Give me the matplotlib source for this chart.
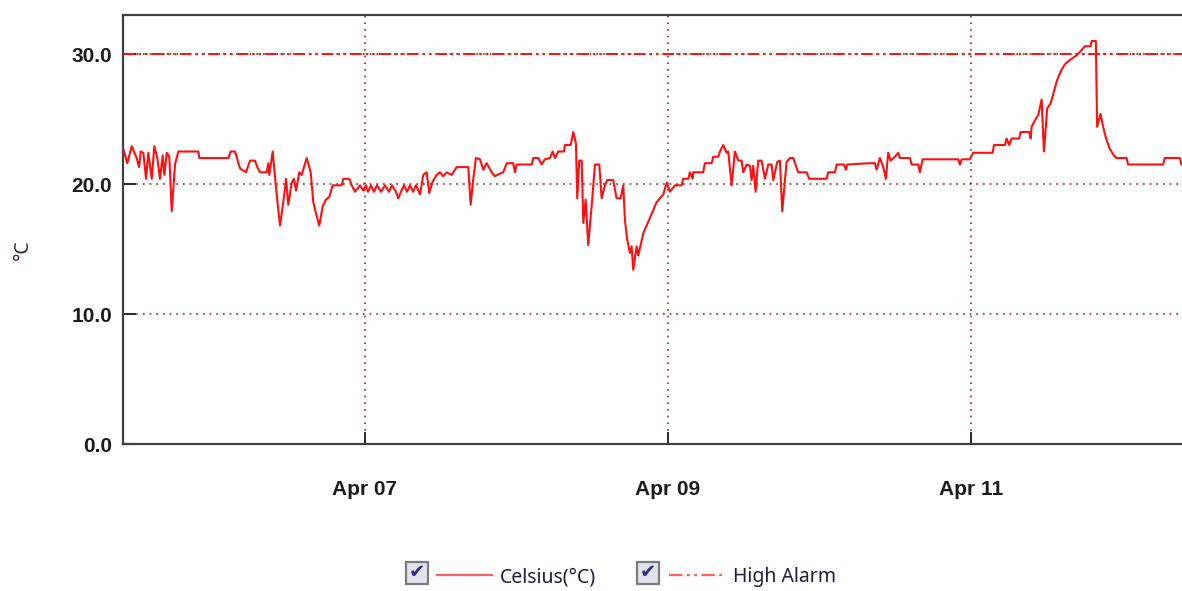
import pandas as pd
import matplotlib
matplotlib.use("Agg")
import matplotlib.pyplot as plt
import matplotlib.dates as mdates
from matplotlib.ticker import FormatStrFormatter
from matplotlib.lines import Line2D
from matplotlib.patches import Rectangle

# --- Data (hours since Apr 05 00:00, temperature in °C) ---
start = pd.Timestamp("2024-04-05 00:00")
hours = [
    9.71, 10.34, 11.04, 11.83, 12.20, 12.47, 12.88, 13.31, 13.67, 14.21,
    14.62, 15.10, 15.52, 15.95, 16.21, 16.59, 17.00, 17.38, 17.90, 18.42,
    21.59, 21.75, 26.34, 26.72, 27.41, 28.20, 29.15, 29.78, 30.57, 30.94,
    31.37, 32.43, 32.68, 32.84, 33.38, 33.90, 34.53, 35.06, 35.49, 35.85,
    36.39, 36.75, 37.07, 37.59, 37.97, 38.76, 39.40, 39.81, 40.30, 40.76,
    41.30, 41.82, 42.34, 42.88, 44.31, 44.56, 45.51, 45.89, 46.42, 47.21,
    47.73, 48.16, 48.48, 48.95, 49.43, 49.90, 50.53, 51.17, 51.80, 52.28,
    52.91, 53.28, 53.70, 54.18, 54.65, 55.13, 55.60, 56.08, 56.71, 57.24,
    57.77, 58.19, 58.72, 59.36, 59.88, 60.40, 60.94, 61.73, 62.53, 64.36,
    64.74, 65.16, 65.58, 66.22, 66.74, 67.28, 68.07, 68.59, 69.39, 69.91,
    70.45, 71.49, 71.76, 72.03, 74.41, 74.66, 75.45, 75.99, 76.51, 77.31,
    77.73, 78.10, 78.62, 79.52, 79.68, 80.59, 81.00, 81.43, 81.63, 81.95,
    82.33, 82.59, 82.96, 83.37, 83.91, 84.44, 85.12, 85.50, 86.02, 86.38,
    87.33, 87.87, 88.51, 88.92, 89.19, 89.55, 89.98, 90.25, 90.50, 91.04,
    91.30, 92.09, 93.15, 94.21, 95.26, 95.80, 96.32, 97.11, 98.17, 98.42,
    99.22, 99.48, 99.91, 100.01, 101.59, 101.86, 102.92, 103.18, 103.97, 104.24,
    104.76, 105.30, 105.55, 106.09, 106.61, 107.14, 107.67, 107.93, 108.47, 108.99,
    109.26, 109.51, 109.89, 110.31, 110.84, 111.37, 111.89, 112.43, 112.68, 113.32,
    113.74, 114.11, 114.80, 115.33, 115.85, 116.64, 117.97, 118.39, 121.14, 121.40,
    122.46, 122.73, 123.88, 124.20, 124.40, 128.00, 128.79, 129.06, 129.58, 130.11,
    130.53, 130.90, 131.28, 131.96, 132.49, 132.75, 134.34, 134.61, 135.65, 135.92,
    136.35, 141.99, 142.26, 142.53, 143.84, 144.37, 147.44, 147.65, 149.39, 149.66,
    150.07, 150.45, 151.65, 151.88, 153.24, 153.46, 153.62, 154.15, 154.67, 155.21,
    155.57, 156.09, 156.63, 157.15, 157.67, 158.37, 158.89, 159.57, 160.74, 161.54,
    162.06, 162.96, 163.12, 163.80, 164.00, 164.54, 164.95, 165.49, 166.01, 166.65,
    167.07, 168.66, 168.91, 174.45, 174.72, 177.09, 177.36,
]
celsius = [
    22.7, 21.6, 22.9, 22.0, 21.3, 22.5, 22.4, 20.4, 22.4, 20.4,
    22.9, 22.0, 20.4, 22.2, 20.7, 22.4, 22.1, 17.9, 21.5, 22.5,
    22.5, 22.0, 22.0, 22.5, 22.5, 21.2, 20.9, 21.8, 21.8, 21.3,
    20.9, 20.9, 21.6, 20.7, 22.5, 19.7, 16.8, 18.6, 20.4, 18.4,
    20.1, 20.4, 19.5, 20.9, 20.7, 22.0, 20.9, 18.6, 17.6, 16.8,
    18.3, 18.8, 19.0, 19.9, 19.9, 20.4, 20.4, 19.9, 19.4, 19.9,
    19.5, 19.9, 19.4, 19.9, 19.4, 19.9, 19.4, 19.9, 19.4, 19.9,
    19.4, 18.9, 19.4, 19.9, 19.4, 19.9, 19.4, 19.9, 19.2, 20.7,
    20.9, 19.3, 20.2, 20.7, 20.9, 20.6, 20.9, 20.7, 21.3, 21.3,
    18.4, 20.4, 22.0, 21.9, 21.1, 21.6, 20.9, 20.6, 20.8, 20.9,
    21.6, 21.6, 20.9, 21.5, 21.5, 22.0, 22.0, 21.5, 21.9, 22.0,
    22.5, 22.0, 22.5, 22.5, 23.0, 23.0, 24.0, 23.1, 18.9, 21.8,
    21.8, 17.0, 18.8, 15.3, 18.3, 21.5, 21.5, 18.9, 19.9, 20.3,
    20.3, 18.9, 18.9, 19.9, 17.2, 15.7, 14.7, 15.2, 13.4, 15.2,
    14.5, 16.2, 17.4, 18.6, 19.2, 20.1, 19.4, 19.9, 19.9, 20.4,
    20.4, 20.9, 20.4, 20.9, 20.9, 21.6, 21.6, 22.1, 22.1, 22.5,
    23.0, 22.4, 22.5, 19.9, 22.5, 21.8, 21.8, 20.9, 21.5, 21.4,
    20.3, 21.4, 19.4, 21.8, 21.8, 20.4, 21.5, 21.5, 20.3, 21.7,
    21.8, 17.9, 21.7, 22.0, 22.0, 20.9, 20.9, 20.4, 20.4, 20.9,
    20.9, 21.5, 21.5, 21.1, 21.5, 21.6, 21.6, 21.1, 22.0, 21.3,
    20.4, 22.4, 21.8, 22.1, 22.4, 22.0, 22.0, 21.5, 21.5, 20.9,
    21.9, 21.9, 21.5, 21.9, 21.9, 22.4, 22.4, 23.0, 23.0, 23.5,
    23.0, 23.5, 23.5, 24.0, 24.0, 23.5, 24.4, 24.9, 25.3, 26.5,
    22.5, 25.8, 26.2, 27.1, 28.0, 28.8, 29.2, 29.5, 29.9, 30.3,
    30.6, 30.6, 31.0, 31.0, 24.4, 25.4, 24.4, 23.4, 22.7, 22.2,
    22.0, 22.0, 21.5, 21.5, 22.0, 22.0, 21.5,
]
high_alarm = 30.0
y_ticks = [0, 10, 20, 30]
view_hours = (9.66, 177.45)
legend_labels = ["Celsius(°C)", "High Alarm"]

times = start + pd.to_timedelta(hours, unit="h")

W, H = 1182, 591
fig = plt.figure(figsize=(W / 100, H / 100), dpi=100)
ax = fig.add_axes([123 / W, 1 - 444 / H, 1 - 123 / W, 429 / H])

line_red = "#ff1010"
alarm_dash = (0, (6, 2, 1.3, 2, 1.3, 2))

ax.plot(times, celsius, color=line_red, lw=1.5, zorder=3)
ax.axhline(high_alarm, color=line_red, lw=1.4, linestyle=alarm_dash, zorder=2)

ax.set_xlim(start + pd.Timedelta(hours=view_hours[0]),
            start + pd.Timedelta(hours=view_hours[1]))
ax.set_ylim(0, 33)

ax.xaxis.set_major_locator(mdates.DayLocator(bymonthday=range(1, 32, 2)))
ax.xaxis.set_major_formatter(mdates.DateFormatter("%b %d"))
ax.set_yticks(y_ticks)
ax.yaxis.set_major_formatter(FormatStrFormatter("%.1f"))

ax.set_axisbelow(True)
ax.grid(True, color="#8e2c2c", linestyle=(0, (1, 3)), lw=1.2)

for side in ["top", "left", "bottom"]:
    ax.spines[side].set_color("#404040")
    ax.spines[side].set_linewidth(1.6)
ax.spines["right"].set_visible(False)

ax.tick_params(axis="both", direction="in", length=9, width=1.5, color="#303030",
               labelcolor="#1c1c1c")
ax.tick_params(axis="x", pad=26)
ax.tick_params(axis="y", pad=8)
for lab in ax.get_xticklabels() + ax.get_yticklabels():
    lab.set_fontfamily("Liberation Sans")
    lab.set_fontweight("bold")
    lab.set_fontsize(15)

ax.set_ylabel("°C", fontsize=14, color="#3e2046", fontfamily="Noto Sans")
ax.yaxis.label.set_va("center")
ax.yaxis.set_label_coords(-0.095, 0.452)

# --- Legend with check boxes ---
def fx(px):
    return px / W

def fy(py):
    return 1 - py / H

legend_items = [
    (406, 437, 492, 500, "-", legend_labels[0]),
    (637, 669, 722, 733, alarm_dash, legend_labels[1]),
]
for box_x, l0, l1, tx, ls, label in legend_items:
    fig.add_artist(Rectangle((fx(box_x), fy(584)), 22 / W, 22 / H,
                             transform=fig.transFigure, facecolor="#e2e2ec",
                             edgecolor="#7c7c7c", lw=1.6))
    fig.text(fx(box_x + 11), fy(573), "✔", ha="center", va="center",
             fontsize=14, color="#2e2e88", fontfamily="DejaVu Sans")
    fig.add_artist(Line2D([fx(l0), fx(l1)], [fy(575), fy(575)],
                          transform=fig.transFigure, color="#ff6060",
                          lw=1.6, linestyle=ls))
    fig.text(fx(tx), fy(577), label, ha="left", va="center",
             fontsize=14, color="#1e1e3c", fontfamily="Noto Sans")

fig.savefig("out.png", dpi=100)
plt.close(fig)
